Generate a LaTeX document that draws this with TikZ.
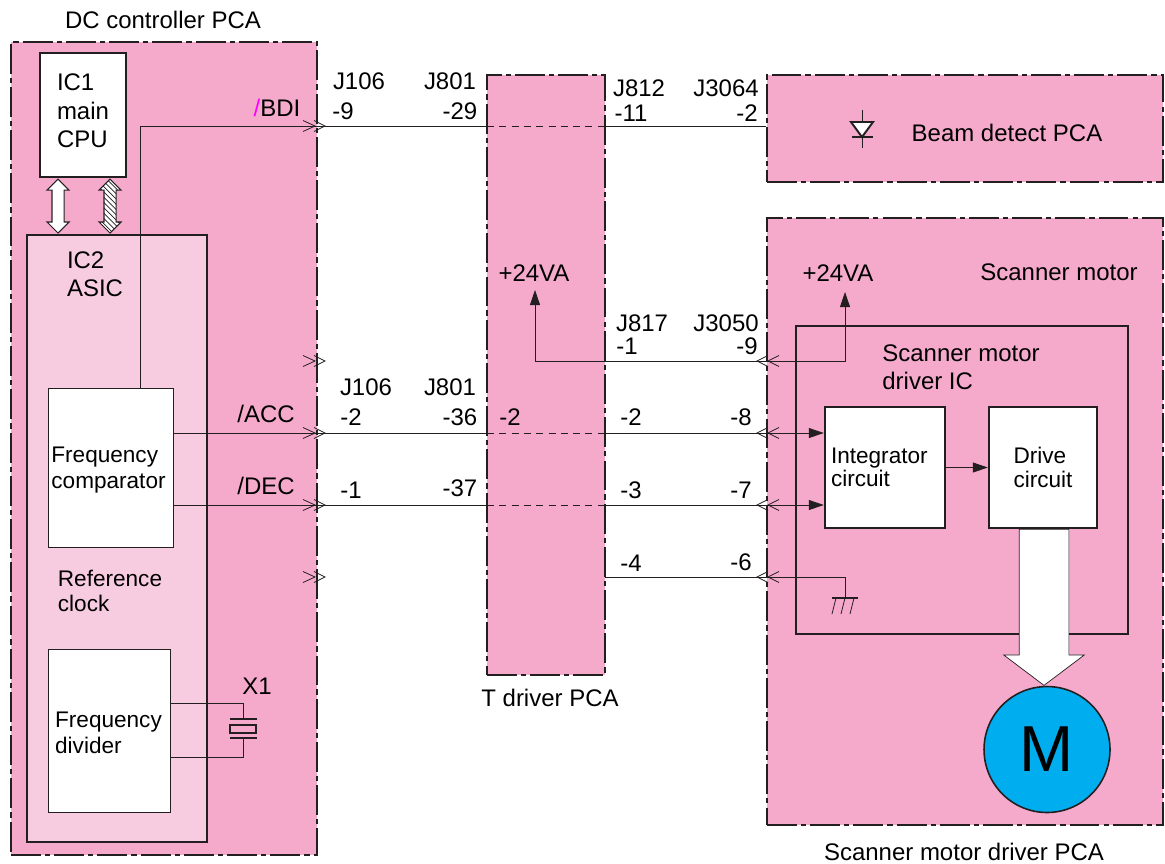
\documentclass[tikz,border=0pt]{standalone}
\usepackage{fontspec}
\setmainfont{Liberation Sans}
\usepackage{xcolor}
\usepackage{tikz}
\usetikzlibrary{shapes.arrows, arrows.meta, patterns}
\definecolor{pcapink}{RGB}{245, 170, 204}
\definecolor{asicpink}{RGB}{247, 203, 224}
\definecolor{motorblue}{RGB}{0, 174, 239}
\definecolor{inkgray}{RGB}{35, 31, 32}
\definecolor{slashpink}{RGB}{255, 0, 255}

\begin{document}
\begin{tikzpicture}[
    x=0.02cm, y=-0.02cm,
    every node/.style={font=\fontsize{13.65pt}{16.2pt}\selectfont, align=left, text=black, inner sep=0pt},
    tight/.style={font=\fontsize{12.85pt}{14.6pt}\selectfont},
    pca/.style={draw=inkgray, fill=pcapink, line width=1.6pt, dash pattern=on 17pt off 2.3pt on 3pt off 2.3pt, preaction={draw=white, solid, line width=1.6pt}, minimum width=#1},
    blk/.style={draw=inkgray, fill=white, line width=1.4pt, rectangle},
    sig/.style={draw=inkgray, line width=0.45pt},
    inner/.style={draw=inkgray, dash pattern=on 4pt off 3pt, line width=0.45pt},
    filledarr/.style={sig, -{Triangle[length=3mm, width=2mm]}},
    busarr/.style={double arrow, draw=inkgray, fill=white, line width=0.6pt, shape border rotate=90, minimum height=1.08cm, double arrow head extend=0.1cm, inner sep=0.11cm},
    chevr/.pic={\draw[sig] (-12,-5.5) -- (0,0) -- (-12,5.5); \draw[sig] (-1,-5.5) -- (10,0) -- (-1,5.5);},
    chevl/.pic={\draw[sig] (11,-5.5) -- (0,0) -- (11,5.5); \draw[sig] (0,-5.5) -- (-11,0) -- (0,5.5);}
]
\useasboundingbox (0,0) rectangle (1165,863);

% PCA outlines
\node[pca=6.12cm, minimum height=16.26cm] (dc) at (164,448.5) {};
\node[pca=2.36cm, minimum height=12cm] (tdrv) at (546,375) {};
\node[pca=7.92cm, minimum height=2.14cm] (beam) at (965,128.5) {};
\node[pca=7.92cm, minimum height=12.14cm] (scan) at (965,521.5) {};

% DC controller
\node[draw=inkgray, fill=asicpink, line width=1.4pt, minimum width=3.6cm, minimum height=12.14cm] (ic2) at (117,538.5) {};
\node[blk, minimum width=1.72cm, minimum height=2.48cm] (ic1) at (83,115) {};
\node (ic1lbl) at (83,111) {IC1\\main\\CPU};
\node (ic2lbl) at (95,274) {IC2\\ASIC};
\node[blk, line width=0.5pt, minimum width=2.5cm, minimum height=3.18cm] (freqc) at (110.5,467.5) {};
\node[tight] (freqclbl) at (108.5,470) {Frequency\\comparator};
\node[blk, line width=0.5pt, minimum width=2.44cm, minimum height=3.26cm] (freqd) at (109,730.5) {};
\node[tight] (freqdlbl) at (108.5,733) {Frequency\\divider};
\node[tight] (reflbl) at (110,591) {Reference\\clock};
\node[busarr] (bus1) at (58,206) {};
\node[busarr, postaction={pattern=north west lines, pattern color=inkgray}] (bus2) at (110,206) {};

% Scanner motor
\node[draw=inkgray, line width=1.4pt, minimum width=6.64cm, minimum height=6.16cm] (drvic) at (962,480) {};
\node[blk, minimum width=2.4cm, minimum height=2.42cm, text width=2.16cm, font=\fontsize{12.85pt}{13.4pt}\selectfont] (integ) at (885,467.5) {Integrator\\circuit};
\node[blk, minimum width=2.16cm, minimum height=2.42cm, font=\fontsize{12.85pt}{13.2pt}\selectfont] (drive) at (1043,467.5) {Drive\\circuit};
\node[circle, draw=inkgray, fill=motorblue, line width=0.9pt, minimum size=2.52cm, font=\fontsize{37pt}{40pt}\selectfont] (motor) at (1047,749.5) {M};
\node[single arrow, draw=inkgray, fill=white, line width=0.4pt, shape border rotate=270, minimum height=3.12cm, single arrow head extend=0.31cm, single arrow tip angle=106, inner sep=0.49cm] (bigarr) at (1044,598) {};

% Text
\node (dclbl) at (163,20) {DC controller PCA};
\node (tlbl) at (550,698) {T driver PCA};
\node (smdlbl) at (964,852) {Scanner motor driver PCA};
\node (beamlbl) at (1007,133) {Beam detect PCA};
\node (smlbl) at (1059,272) {Scanner motor};
\node (iclbl) at (961,367) {Scanner motor\\driver IC};
\node (va1) at (534,273) {+24VA};
\node (va2) at (838,273) {+24VA};
\node (x1lbl) at (257,686) {X1};
\node (bdi) at (277,108) {\textcolor{slashpink}{/}BDI};
\node (acc) at (266,414) {/ACC};
\node (dec) at (266,486) {/DEC};

% Connector pins
\node at (359,81) {J106};
\node at (450,81) {J801};
\node at (343,111) {-9};
\node at (460,111) {-29};
\node at (639,88) {J812};
\node at (631,113) {-11};
\node at (726,88) {J3064};
\node at (747,113) {-2};
\node at (642,323) {J817};
\node at (627,346) {-1};
\node at (726,323) {J3050};
\node at (747,346) {-9};
\node at (366,387) {J106};
\node at (450,387) {J801};
\node at (351,417) {-2};
\node at (460,417) {-36};
\node at (510,417) {-2};
\node at (631,417) {-2};
\node at (741,417) {-8};
\node at (351,490) {-1};
\node at (460,488) {-37};
\node at (631,490) {-3};
\node at (741,490) {-7};
\node at (631,563) {-4};
\node at (741,562) {-6};

% Connector chevrons
\pic at (315,126) {chevr};
\pic at (315,361) {chevr};
\pic at (315,433) {chevr};
\pic at (315,505) {chevr};
\pic at (315,577) {chevr};
\pic at (768,361) {chevl};
\pic at (768,433) {chevl};
\pic at (768,505) {chevl};
\pic at (768,577) {chevl};

% Signals
\coordinate (bdiL) at (317,126);
\coordinate (bdiT) at (487,126);
\coordinate (bdiU) at (605,126);
\coordinate (accL) at (317,433);
\coordinate (accT) at (487,433);
\coordinate (accU) at (605,433);
\coordinate (accR) at (767,433);
\coordinate (decL) at (317,505);
\coordinate (decT) at (487,505);
\coordinate (decU) at (605,505);
\coordinate (decR) at (767,505);
\coordinate (vaR) at (767,361);
\coordinate (gndR) at (767,577);
\coordinate (gndU) at (605,577);
\coordinate (gnd) at (845,598);

\draw[sig] (140,388) -- (140,126) -- (bdiL);
\draw[sig] (bdiL) -- (bdiT);
\draw[inner] (bdiT) -- (bdiU);
\draw[sig] (bdiU) -- (beam.west |- bdiU);
\draw[sig] (freqc.east |- accL) -- (accL);
\draw[sig] (accL) -- (accT);
\draw[inner] (accT) -- (accU);
\draw[sig] (accU) -- (accR);
\draw[sig] (freqc.east |- decL) -- (decL);
\draw[sig] (decL) -- (decT);
\draw[inner] (decT) -- (decU);
\draw[sig] (decU) -- (decR);
\draw[filledarr] (accR) -- (integ.west |- accR);
\draw[filledarr] (decR) -- (integ.west |- decR);
\draw[filledarr] (integ.east) -- (drive.west);
\draw[filledarr] (vaR) -- (535,361) -- (535,290);
\draw[filledarr] (vaR) -- (845,361) -- (845,292);
\draw[sig] (gndU) -- (gndR);
\draw[sig] (gndR) -- (gnd |- gndR) -- (gnd);

% Ground
\draw[sig, line width=1pt] (832,598) -- (858,598);
\draw[sig] (836,598) -- (832,614);
\draw[sig] (845,598) -- (841,614);
\draw[sig] (854,598) -- (850,614);

% Crystal X1
\draw[sig] (freqd.east |- 0,703) -- (243,703) -- (243,719);
\draw[sig] (freqd.east |- 0,757) -- (243,757) -- (243,738);
\draw[sig, line width=1.2pt] (230,719) -- (257,719);
\draw[sig, line width=1.2pt] (230,738) -- (257,738);
\draw[sig, line width=1.2pt] (230,725) rectangle (256,733);

% Diode
\draw[sig] (862,110) -- (862,148);
\draw[sig, fill=white, line width=1.1pt] (851,122) -- (873,122) -- (862,137) -- cycle;
\draw[sig, line width=1.1pt] (852,137) -- (873,137);

\end{tikzpicture}
\end{document}
